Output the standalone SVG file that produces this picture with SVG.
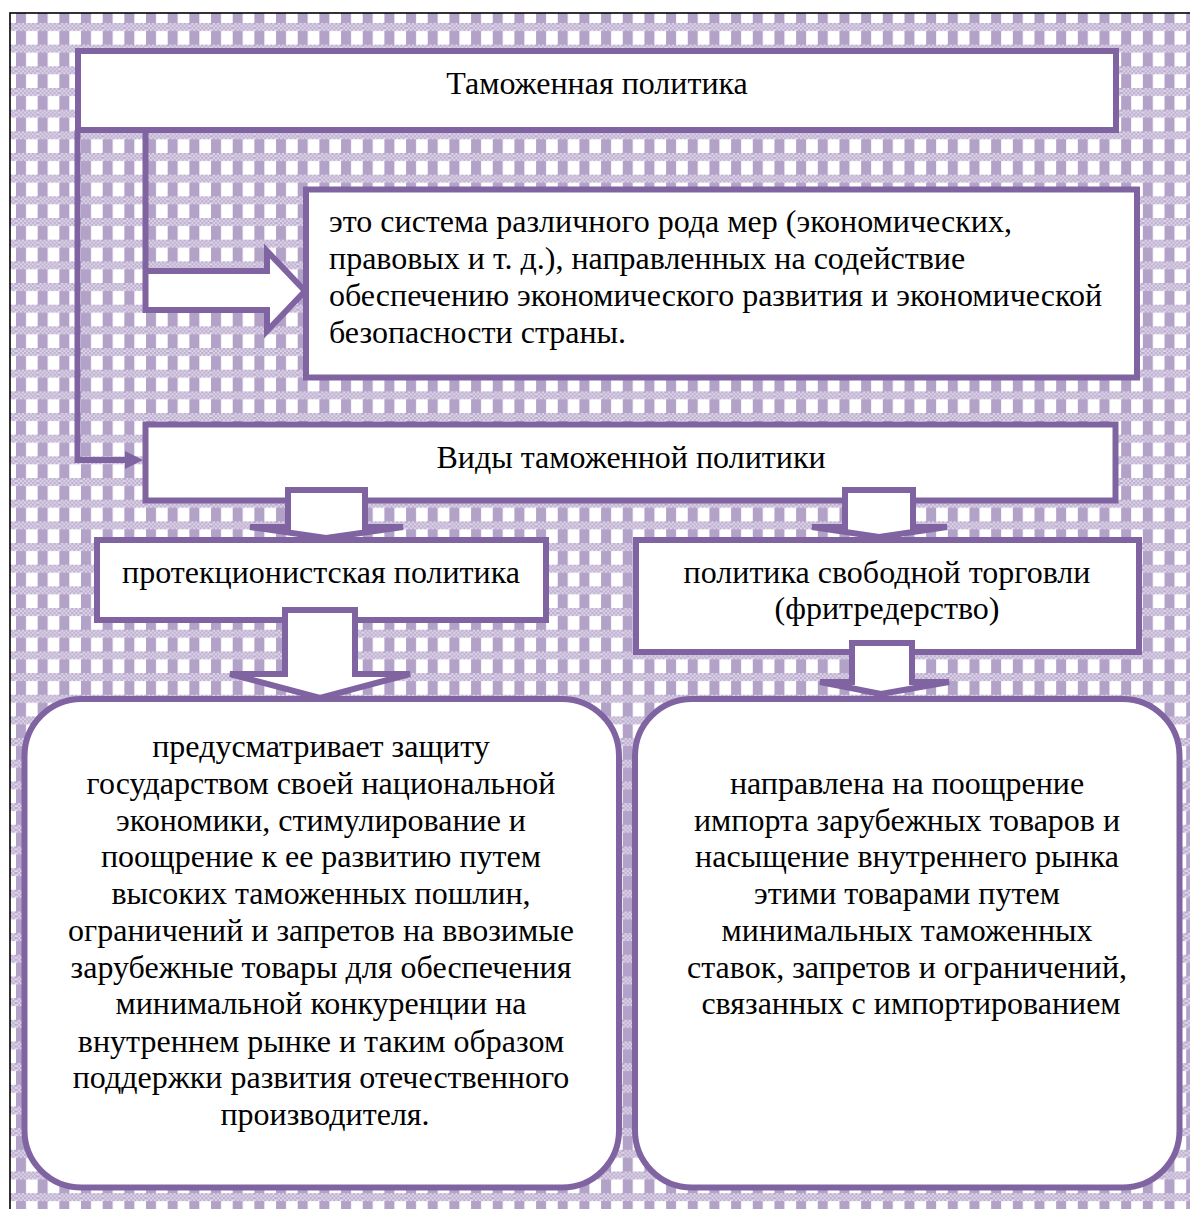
<svg xmlns="http://www.w3.org/2000/svg" width="1190" height="1209" viewBox="0 0 1190 1209">
<style>
.box{fill:#fff;stroke:#8064a2;stroke-width:6}
.t{font-family:"Liberation Serif","Times New Roman",serif;font-size:32px;fill:#000}
.c{text-anchor:middle}
.conn{fill:#fff;stroke:#8064a2;stroke-width:6;stroke-linejoin:miter}
.line{fill:none;stroke:#8064a2;stroke-width:6}
.head{fill:#8064a2}
</style>
<defs>
<pattern id="dots" width="4" height="4" patternUnits="userSpaceOnUse">
<rect width="4" height="4" fill="#e2daec"/>
<rect width="2" height="2" fill="#b8a8cb"/>
<rect x="2" y="2" width="2" height="2" fill="#b8a8cb"/>
</pattern>
<pattern id="plaid" x="16" y="1.3" width="21.67" height="21.67" patternUnits="userSpaceOnUse">
<rect width="21.67" height="21.67" fill="#fff"/>
<rect width="10" height="21.67" fill="#b3a2c7"/>
<rect width="21.67" height="8" fill="url(#dots)"/>
</pattern>
</defs>
<rect x="0" y="0" width="1190" height="1209" fill="#fff"/>
<rect x="10" y="13" width="1185" height="1200" fill="url(#plaid)" stroke="#000" stroke-width="1.6"/>

<g id="node-customs-policy">
<rect class="box" x="78" y="51" width="1038" height="79"/>
<text class="t c" x="597" y="94">Таможенная политика</text>
</g>
<g id="node-definition">
<rect class="box" x="306" y="189.5" width="831" height="188"/>
<text class="t" x="329" y="232">это система различного рода мер (экономических,</text>
<text class="t" x="329" y="269">правовых и т. д.), направленных на содействие</text>
<text class="t" x="329" y="306">обеспечению экономического развития и экономической</text>
<text class="t" x="329" y="343">безопасности страны.</text>
</g>
<g id="node-types">
<rect class="box" x="145.5" y="424.5" width="970" height="76"/>
<text class="t c" x="631" y="468">Виды таможенной политики</text>
</g>
<g id="node-protectionist">
<rect class="box" x="97" y="540" width="449" height="80"/>
<text class="t c" x="321" y="583">протекционистская политика</text>
</g>
<g id="node-free-trade">
<rect class="box" x="636" y="540" width="503" height="112"/>
<text class="t c" x="887" y="583">политика свободной торговли</text>
<text class="t c" x="887" y="619">(фритредерство)</text>
</g>
<g id="node-protectionist-desc">
<rect class="box" x="24.5" y="699" width="594.5" height="488.5" rx="57"/>
<text class="t c" x="325">
<tspan x="325" y="757">предусматривает защиту</tspan>
<tspan x="325" y="794">государством своей национальной</tspan>
<tspan x="325" y="831">экономики, стимулирование и</tspan>
<tspan x="325" y="867">поощрение к ее развитию путем</tspan>
<tspan x="325" y="904">высоких таможенных пошлин,</tspan>
<tspan x="325" y="941">ограничений и запретов на ввозимые</tspan>
<tspan x="325" y="978">зарубежные товары для обеспечения</tspan>
<tspan x="325" y="1014">минимальной конкуренции на</tspan>
<tspan x="325" y="1052">внутреннем рынке и таким образом</tspan>
<tspan x="325" y="1088">поддержки развития отечественного</tspan>
<tspan x="325" y="1125">производителя.</tspan>
</text>
</g>
<g id="node-free-trade-desc">
<rect class="box" x="635" y="699" width="544.5" height="488.5" rx="57"/>
<text class="t c" x="911">
<tspan x="911" y="794">направлена на поощрение</tspan>
<tspan x="911" y="831">импорта зарубежных товаров и</tspan>
<tspan x="911" y="867">насыщение внутреннего рынка</tspan>
<tspan x="911" y="904">этими товарами путем</tspan>
<tspan x="911" y="941">минимальных таможенных</tspan>
<tspan x="911" y="978">ставок, запретов и ограничений,</tspan>
<tspan x="911" y="1014">связанных с импортированием</tspan>
</text>
</g>

<g id="connectors">
<path class="line" d="M77.5,130 V460 H128"/>
<path class="head" d="M125,451 L143,460 L125,469 Z"/>
<path class="conn" d="M145.5,133 V310 H267 V331 L305,291 L267,251 V271 H145.5"/>
<path class="conn" d="M288,490 H365 V527 H403 L326,538 L250,527 H288 Z"/>
<path class="conn" d="M285,610 H355 V674 H410 L320,698 L230,674 H285 Z"/>
<path class="conn" d="M845,490 H913 V527 H947 L879,537 L812,527 H845 Z"/>
<path class="conn" d="M852,643 H912 V682 H949 L881,694 L820,682 H852 Z"/>
</g>
</svg>
